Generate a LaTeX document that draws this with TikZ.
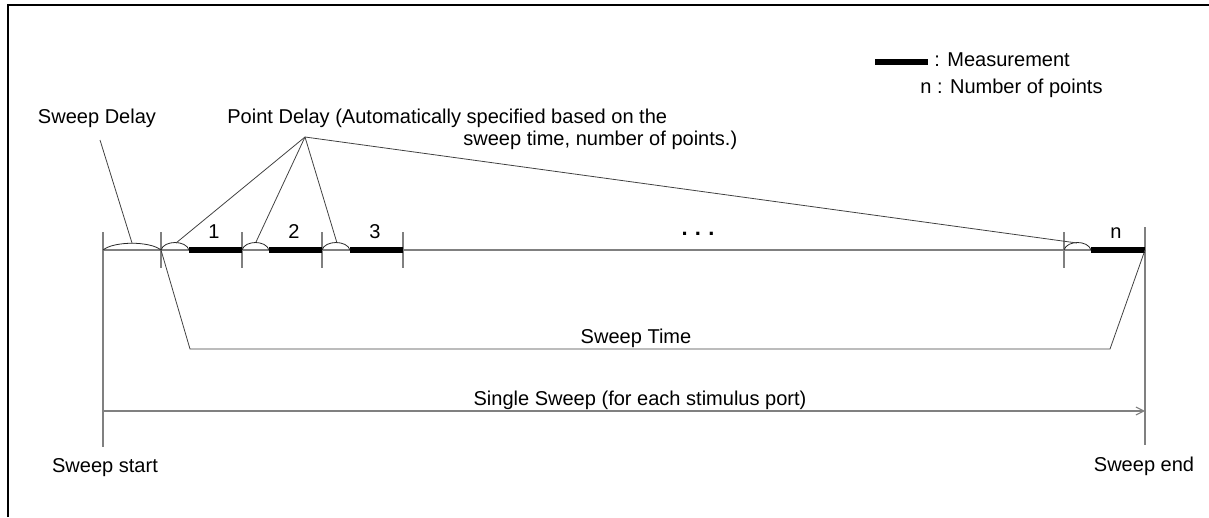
\documentclass[tikz,border=0pt]{standalone}
\usepackage{fontspec}
\setmainfont{Liberation Sans}
\usetikzlibrary{arrows.meta,positioning}

\begin{document}
\begin{tikzpicture}[x=0.02cm,y=-0.02cm,>={Straight Barb[length=4.5pt,width=4.5pt]}, every node/.style={font=\fontsize{11.4}{13.5}\selectfont,inner sep=0pt}]
\tikzstyle{axis}=[draw=black!50,line width=0.6pt]
\tikzstyle{meas}=[draw=black,line width=3.3pt]
\tikzstyle{hump}=[draw=black!85,line width=0.45pt]
\tikzstyle{leader}=[draw=black!75,line width=0.45pt]
\tikzstyle{lbl}=[anchor=base]
\useasboundingbox (0,0) rectangle (1209,517);
\draw[line width=1.3pt] (8,517) -- (8,5) -- (1209,5);

% points on the time axis
\coordinate (t0) at (103,250);
\coordinate (t1) at (161,250);
\coordinate (m1) at (189,250);
\coordinate (t2) at (242,250);
\coordinate (m2) at (269,250);
\coordinate (t3) at (322,250);
\coordinate (m3) at (350,250);
\coordinate (t4) at (403,250);
\coordinate (tn) at (1064,250);
\coordinate (mn) at (1091,250);
\coordinate (tend) at (1145,250);

% tops of the delay humps
\coordinate (h0) at (132,243);
\coordinate (h1) at (176,243);
\coordinate (h2) at (256,242);
\coordinate (h3) at (337,243);
\coordinate (hn) at (1077,243);

\draw[axis] (t0) -- (tend);
\draw[axis] (103,232) -- (103,447);
\draw[axis] (1145,227) -- (1145,445);
\draw[axis] (161,232) -- (161,268);
\draw[axis] (242,232) -- (242,268);
\draw[axis] (322,232) -- (322,268);
\draw[axis] (403,232) -- (403,268);
\draw[axis] (1064,232) -- (1064,268);

% measurements
\draw[meas] (m1) -- (t2);
\draw[meas] (m2) -- (t3);
\draw[meas] (m3) -- (t4);
\draw[meas] (mn) -- (tend);
\node[lbl] (n1) at (214,238) {1};
\node[lbl] (n2) at (294,238) {2};
\node[lbl] (n3) at (375,238) {3};
\node[lbl,font=\fontsize{12.5}{13}\selectfont\bfseries] (dots) at (698,235) {.\,\,.\,\,.};
\node[lbl] (nn) at (1116,238) {n};

% delays
\draw[hump] (t0) .. controls (114,241) and (150,241) .. (t1);
\draw[hump] (t1) .. controls (164,240) and (186,240) .. (m1);
\draw[hump] (t2) .. controls (245,240) and (266,240) .. (m2);
\draw[hump] (t3) .. controls (325,240) and (347,240) .. (m3);
\draw[hump] (tn) .. controls (1067,240) and (1088,240) .. (mn);

\node[lbl] (sdelay) at (97,123) {Sweep Delay};
\coordinate (sdfoot) at (100,140);
\draw[leader] (sdfoot) -- (h0);

\node[anchor=base west] (pdelay) at (227,123) {Point Delay (Automatically specified based on the};
\node[anchor=base west] (pdelay2) at (463,145) {sweep time, number of points.)};
\coordinate (pdfoot) at (305,137);
\draw[leader] (pdfoot) -- (h1);
\draw[leader] (pdfoot) -- (h2);
\draw[leader] (pdfoot) -- (h3);
\draw[leader] (pdfoot) -- (hn);

% sweep time bracket
\coordinate (stl) at (190,349);
\coordinate (str) at (1110,349);
\draw[leader] (t1) -- (stl) -- (str) -- (tend);
\node[lbl] (stime) at (636,343) {Sweep Time};

% single sweep
\coordinate (ss0) at (103,411);
\coordinate (ss1) at (1145,411);
\draw[axis,->] (ss0) -- (ss1);
\node[lbl] (ssweep) at (640,405) {Single Sweep (for each stimulus port)};
\node[lbl] (sstart) at (105,472) {Sweep start};
\node[lbl] (send) at (1144,471) {Sweep end};

% legend
\coordinate (lg0) at (875,62);
\coordinate (lg1) at (928,62);
\draw[draw=black,line width=2.9pt] (lg0) -- (lg1);
\node[anchor=base west] (lgmeas) at (934,67) {: Measurement};
\node[anchor=base west] (lgpts) at (920,93) {n : Number of points};
\end{tikzpicture}
\end{document}
